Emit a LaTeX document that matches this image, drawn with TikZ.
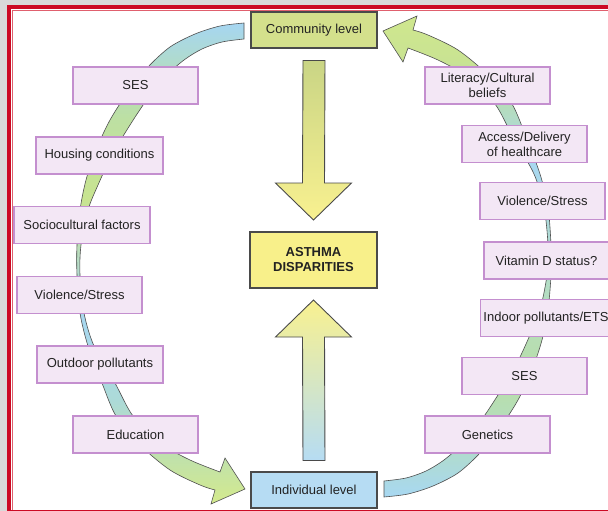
\documentclass[tikz,border=0pt]{standalone}
\usepackage{fontspec}
\setmainfont{Liberation Sans}
\usetikzlibrary{calc}
\definecolor{bggrey}{HTML}{D9D9D9}
\definecolor{framered}{HTML}{CC0A24}
\definecolor{framepink}{HTML}{E0606E}
\definecolor{factorfill}{HTML}{F3E7F5}
\definecolor{factorline}{HTML}{C48FCF}
\definecolor{commfill}{HTML}{D4E08C}
\definecolor{indfill}{HTML}{B6DCF3}
\definecolor{asthfill}{HTML}{F8F08A}
\definecolor{boxline}{HTML}{4A4A4A}
\definecolor{bandline}{HTML}{505050}
\definecolor{txt}{HTML}{222222}
% left band colours (bottom to top)
\definecolor{lbA}{HTML}{D4EA8C}
\definecolor{lbB}{HTML}{BDE0B0}
\definecolor{lbC}{HTML}{ACDAD8}
\definecolor{lbD}{HTML}{A8D8F0}
\definecolor{lbE}{HTML}{B8DCC4}
\definecolor{lbF}{HTML}{C8E490}
\definecolor{lbG}{HTML}{BDE0A2}
\definecolor{lbH}{HTML}{B2DCC4}
\definecolor{lbI}{HTML}{A6D6F2}
% right band colours (bottom to top)
\definecolor{rbA}{HTML}{A8D8F2}
\definecolor{rbB}{HTML}{B2DCC4}
\definecolor{rbC}{HTML}{B9DFA8}
\definecolor{rbD}{HTML}{B2DCCC}
\definecolor{rbE}{HTML}{A8D8F0}
\definecolor{rbF}{HTML}{B4DCC0}
\definecolor{rbG}{HTML}{C9E392}
\definecolor{rbH}{HTML}{CFE78E}
\pgfdeclareverticalshading{leftband}{100bp}{color(0bp)=(lbA); color(25bp)=(lbA); color(30.6bp)=(lbB); color(35.8bp)=(lbC); color(44.1bp)=(lbD); color(50.4bp)=(lbE); color(56.6bp)=(lbF); color(64.9bp)=(lbG); color(70.1bp)=(lbH); color(75bp)=(lbI); color(100bp)=(lbI)}
\pgfdeclareverticalshading{rightband}{100bp}{color(0bp)=(rbA); color(25bp)=(rbA); color(30.9bp)=(rbB); color(37.2bp)=(rbC); color(49.6bp)=(rbD); color(59.5bp)=(rbE); color(65.2bp)=(rbF); color(70.4bp)=(rbG); color(75bp)=(rbH); color(100bp)=(rbH)}
\tikzset{
  factor/.style={draw=factorline, fill=factorfill, line width=1.1pt,
    minimum width=125pt, minimum height=37pt, inner sep=2pt, align=center,
    text=txt, font=\fontsize{13}{15}\selectfont},
  levelbox/.style={draw=boxline, line width=1.1pt, minimum width=126pt,
    minimum height=36pt, inner sep=2pt, text=txt, font=\fontsize{13}{15}\selectfont},
  centerbox/.style={draw=boxline, fill=asthfill, line width=2pt, minimum width=127pt,
    minimum height=56pt, align=center, text=txt, font=\fontsize{13}{15}\selectfont\bfseries},
  band/.style={draw=bandline, line width=0.6pt},
  blockarrow/.style={draw=boxline, line width=0.9pt, line join=miter}
}
\begin{document}
\begin{tikzpicture}[x=1pt, y=-1pt]
\useasboundingbox (0,0) rectangle (608,511);
\begin{scope}
\clip (0,0) rectangle (608,511);
% background and frame
\fill[bggrey] (0,0) rectangle (608,511);
\fill[framered] (7,5) rectangle (640,540);
\fill[white] (11,9) rectangle (640,540);

% left band
\path[band, shading=leftband]
  plot[smooth] coordinates {(244,23) (220,26) (195,34) (170,47) (148,67) (128,92) (110,120) (96,150) (86,180) (80,210) (77,245) (77,275) (80,313) (88,346) (102,383) (116,416) (140,445) (170,470) (200,485) (215,490)}
  -- (211,504) -- (245,489) -- (225,458) -- (220,472)
  -- plot[smooth] coordinates {(220,472) (190,460) (160,443) (133,416) (115,383) (94,346) (84,313) (80,275) (81,245) (88,210) (98,185) (112,155) (130,125) (148,98) (166,76) (184,60) (202,49) (222,42) (244,39)}
  -- cycle;
% right band
\path[band, shading=rightband]
  plot[smooth] coordinates {(384,497) (408,494) (433,486) (458,473) (480,453) (500,428) (518,400) (532,370) (542,340) (548,310) (551,275) (551,245) (548,207) (540,174) (526,137) (512,104) (488,75) (458,50) (428,35) (413,30)}
  -- (417,16) -- (383,31) -- (403,62) -- (408,48)
  -- plot[smooth] coordinates {(408,48) (438,60) (468,77) (495,104) (513,137) (534,174) (544,207) (548,245) (547,275) (540,310) (530,335) (516,365) (498,395) (480,422) (462,444) (444,460) (426,471) (406,478) (384,481)}
  -- cycle;

% level and centre boxes
\node[levelbox, fill=commfill] (comm) at (314,30) {Community level};
\node[levelbox, fill=indfill] (indiv) at (314,490) {Individual level};
\node[centerbox] (asth) at (313.5,260) {ASTHMA\\DISPARITIES};

% left factors
\node[factor] (l1) at (135.5,85.5) {SES};
\node[factor, minimum width=127pt] (l2) at (99.5,155.5) {Housing conditions};
\node[factor, minimum width=136pt] (l3) at (82,225) {Sociocultural factors};
\node[factor] (l4) at (79.5,295) {Violence/Stress};
\node[factor, minimum width=126pt] (l5) at (100,364.5) {Outdoor pollutants};
\node[factor] (l6) at (135.5,434.5) {Education};

% right factors
\node[factor] (r1) at (487.5,85.5) {Literacy/Cultural\\beliefs};
\node[factor] (r2) at (524.5,144) {Access/Delivery\\of healthcare};
\node[factor] (r3) at (542.5,201) {Violence/Stress};
\node[factor] (r4) at (546.5,260.5) {Vitamin D status?};
\node[factor, minimum width=131pt] (r5) at (546,318) {Indoor pollutants/ETS};
\node[factor] (r6) at (524.5,376) {SES};
\node[factor] (r7) at (487.5,434.5) {Genetics};

% block arrows
\coordinate (dtop) at ($(comm.south)+(0,12)$);
\coordinate (dtip) at ($(asth.north)+(0,-11)$);
\coordinate (utip) at ($(asth.south)+(0,11)$);
\coordinate (ubot) at ($(indiv.north)+(0,-11)$);
\path[blockarrow, top color=commfill!95!black, bottom color=asthfill!95!white]
  ($(dtop)+(-11,0)$) -- ($(dtop)+(11,0)$) -- ($(dtip)+(11,-37)$) -- ($(dtip)+(38,-37)$)
  -- (dtip) -- ($(dtip)+(-38,-37)$) -- ($(dtip)+(-11,-37)$) -- cycle;
\path[blockarrow, top color=asthfill!95!white, bottom color=indfill]
  ($(ubot)+(-11,0)$) -- ($(ubot)+(11,0)$) -- ($(utip)+(11,37)$) -- ($(utip)+(38,37)$)
  -- (utip) -- ($(utip)+(-38,37)$) -- ($(utip)+(-11,37)$) -- cycle;

% inner thin frame line
\draw[framepink, line width=1.2pt] (12.2,10.4) rectangle (640,540);
\draw[framered, line width=1.4pt] (11,510.3) -- (640,510.3);
\end{scope}
\end{tikzpicture}
\end{document}
